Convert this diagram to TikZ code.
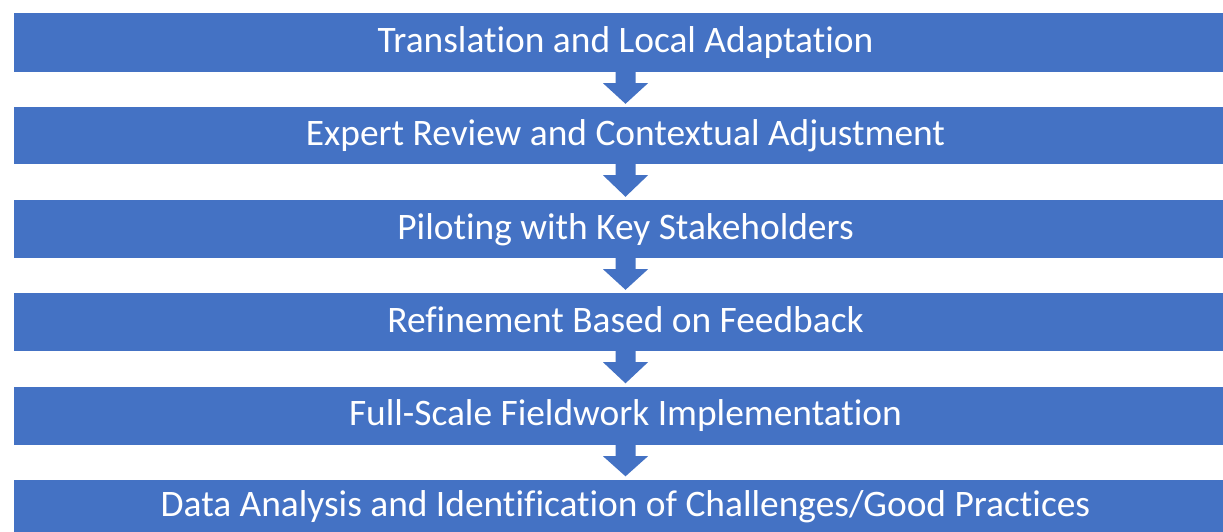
\documentclass[tikz,border=0pt]{standalone}
\usepackage{fontspec}
\setmainfont{Carlito}[RawFeature={-liga}]
\usetikzlibrary{calc}
\definecolor{stepblue}{HTML}{4472C4}
\begin{document}
\begin{tikzpicture}[x=1pt,y=-1pt,
  stepbox/.style={fill=stepblue, draw=none, minimum width=1223pt, inner sep=0pt,
    text=white, font=\fontsize{37.4}{44}\selectfont, text height=26pt, text depth=6pt},
  flowarrow/.style={fill=stepblue, draw=none}]
  \useasboundingbox (0,0) rectangle (1223,531);
  \fill[white] (0,0) rectangle (1223,531);
  % the six process steps
  \node[stepbox, minimum height=59pt] (s1) at (625.5,42.5) {Translation and Local Adaptation};
  \node[stepbox, minimum height=57pt] (s2) at (625.5,135.5) {Expert Review and Contextual Adjustment};
  \node[stepbox, minimum height=58pt] (s3) at (625.5,229) {Piloting with Key Stakeholders};
  \node[stepbox, minimum height=58pt] (s4) at (625.5,322) {Refinement Based on Feedback};
  \node[stepbox, minimum height=58.5pt] (s5) at (625.5,415.75) {Full-Scale Fieldwork Implementation};
  \node[stepbox, minimum height=58pt, text height=23pt, text depth=8pt] (s6) at (625.5,508.5) {Data Analysis and Identification of Challenges/Good Practices};
  % block arrows between consecutive steps
  \foreach \a/\b in {s1/s2, s2/s3, s3/s4, s4/s5, s5/s6} {
    \fill[flowarrow] ($(\a.south)+(-10,0)$) -- ($(\a.south)+(-10,11)$) -- ($(\a.south)+(-22.5,11)$)
      -- ($(\b.north)+(0,-3)$) -- ($(\a.south)+(22.5,11)$) -- ($(\a.south)+(10,11)$)
      -- ($(\a.south)+(10,0)$) -- cycle;
  }
\end{tikzpicture}
\end{document}
